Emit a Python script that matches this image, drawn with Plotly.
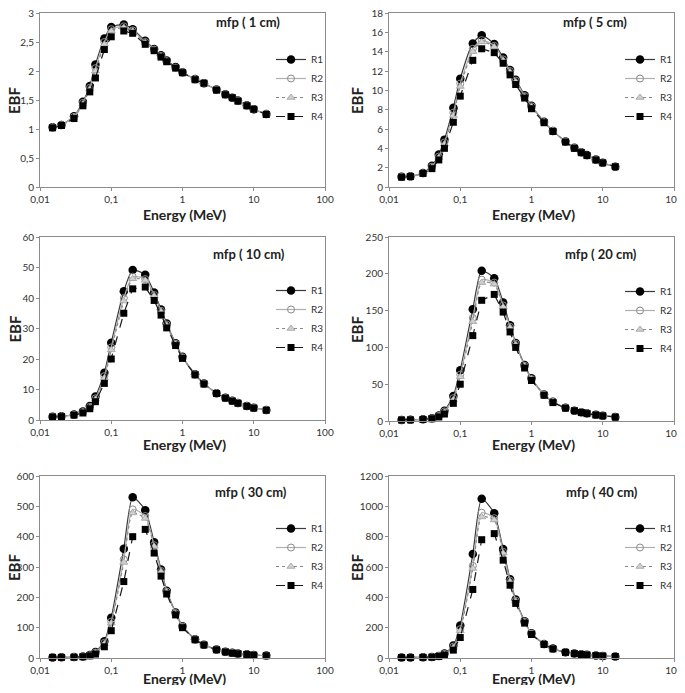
import plotly.graph_objects as go

energy = [0.015, 0.02, 0.03, 0.04, 0.05, 0.06, 0.08, 0.1, 0.15, 0.2, 0.3, 0.4, 0.5,
          0.6, 0.8, 1, 1.5, 2, 3, 4, 5, 6, 8, 10, 15]

series_names = ["R1", "R2", "R3", "R4"]
panel_titles = ["mfp ( 1 cm)", "mfp ( 5 cm)", "mfp ( 10 cm)", "mfp ( 20 cm)", "mfp ( 30 cm)", "mfp ( 40 cm)"]
x_title = "Energy (MeV)"
y_title = "EBF"

x_tickvals = [0.01, 0.1, 1, 10, 100]
x_ticktext = ["0,01", "0,1", "1", "10", "100"]

# 1 cm
r1_1cm = [1.03, 1.07, 1.22, 1.47, 1.74, 2.11, 2.56, 2.76, 2.80, 2.72, 2.52, 2.38, 2.27, 2.18, 2.07, 1.98, 1.86, 1.79, 1.68, 1.60, 1.54, 1.49, 1.41, 1.34, 1.26]
r2_1cm = [1.03, 1.07, 1.21, 1.45, 1.71, 2.05, 2.50, 2.72, 2.77, 2.70, 2.50, 2.37, 2.26, 2.17, 2.06, 1.98, 1.86, 1.79, 1.68, 1.60, 1.54, 1.49, 1.41, 1.34, 1.26]
r3_1cm = [1.03, 1.06, 1.20, 1.43, 1.69, 2.00, 2.46, 2.69, 2.75, 2.69, 2.49, 2.36, 2.25, 2.17, 2.06, 1.97, 1.86, 1.79, 1.67, 1.59, 1.54, 1.48, 1.40, 1.34, 1.25]
r4_1cm = [1.02, 1.06, 1.18, 1.40, 1.64, 1.88, 2.37, 2.59, 2.69, 2.65, 2.46, 2.35, 2.24, 2.16, 2.05, 1.97, 1.85, 1.79, 1.67, 1.59, 1.54, 1.48, 1.40, 1.34, 1.25]

# 5 cm
r1_5cm = [1.05, 1.1, 1.45, 2.2, 3.35, 4.9, 8.2, 11.2, 14.85, 15.7, 14.8, 13.4, 12.1, 11.1, 9.5, 8.4, 6.75, 5.8, 4.7, 4.05, 3.6, 3.3, 2.85, 2.5, 2.1]
r2_5cm = [1.05, 1.1, 1.42, 2.1, 3.15, 4.6, 7.7, 10.7, 14.3, 15.2, 14.6, 13.2, 12.0, 11.0, 9.4, 8.35, 6.7, 5.8, 4.7, 4.05, 3.6, 3.25, 2.85, 2.5, 2.1]
r3_5cm = [1.05, 1.1, 1.4, 2.05, 3.05, 4.45, 7.4, 10.4, 14.0, 15.0, 14.5, 13.1, 11.9, 10.9, 9.35, 8.3, 6.7, 5.8, 4.7, 4.0, 3.6, 3.25, 2.85, 2.5, 2.1]
r4_5cm = [1.02, 1.08, 1.4, 1.9, 2.8, 4.0, 6.7, 9.4, 13.1, 14.3, 13.9, 12.8, 11.6, 10.6, 9.2, 8.1, 6.65, 5.75, 4.65, 4.0, 3.55, 3.25, 2.8, 2.5, 2.1]

# 10 cm
r1_10cm = [1.1, 1.2, 1.8, 2.8, 4.6, 7.7, 15.5, 25.3, 42.2, 49.2, 47.6, 41.8, 36.2, 31.6, 25.2, 20.7, 15.0, 12.0, 8.8, 7.3, 6.3, 5.6, 4.6, 4.0, 3.3]
r2_10cm = [1.1, 1.2, 1.75, 2.6, 4.3, 7.1, 14.4, 23.8, 40.0, 47.0, 46.2, 41.0, 35.8, 31.3, 25.0, 20.6, 15.0, 11.9, 8.8, 7.3, 6.3, 5.6, 4.6, 4.0, 3.3]
r3_10cm = [1.1, 1.2, 1.7, 2.5, 4.1, 6.8, 13.8, 23.0, 39.0, 46.3, 45.8, 40.7, 35.6, 31.1, 24.9, 20.5, 14.9, 11.9, 8.8, 7.3, 6.3, 5.6, 4.6, 4.0, 3.3]
r4_10cm = [1.0, 1.1, 1.6, 2.3, 3.7, 6.0, 12.0, 20.0, 35.0, 43.0, 43.6, 39.2, 34.4, 30.2, 24.4, 20.2, 14.8, 11.8, 8.7, 7.2, 6.2, 5.5, 4.5, 3.9, 3.2]

# 20 cm
r1_20cm = [1.5, 1.7, 2.3, 3.7, 7.5, 14, 34, 69, 152, 204, 194, 161, 130, 106, 76, 58, 36, 26, 18, 14, 12, 10.5, 8.5, 7.2, 5.5]
r2_20cm = [1.5, 1.7, 2.2, 3.5, 7, 13, 31, 63, 140, 192, 188, 157, 128, 105, 75, 57, 36, 26, 18, 14, 12, 10.5, 8.5, 7.2, 5.5]
r3_20cm = [1.5, 1.7, 2.2, 3.4, 6.6, 12, 29, 60, 135, 188, 186, 155, 127, 104, 75, 57, 36, 26, 18, 14, 12, 10.5, 8.5, 7.2, 5.5]
r4_20cm = [1.4, 1.6, 2.0, 3.0, 5.5, 9.5, 24, 50, 116, 164, 172, 148, 121, 100, 72, 55, 35, 25, 17.5, 14, 11.5, 10, 8.2, 7, 5.3]

# 30 cm
r1_30cm = [2, 2.2, 3, 5, 10, 20, 55, 133, 360, 530, 487, 382, 292, 222, 150, 105, 62, 44, 28, 21, 17, 15, 12, 10, 8]
r2_30cm = [2, 2.2, 3, 5, 9, 18, 50, 120, 325, 490, 468, 372, 287, 219, 148, 104, 62, 44, 28, 21, 17, 15, 12, 10, 8]
r3_30cm = [2, 2.2, 3, 4.5, 8.5, 17, 47, 115, 315, 478, 460, 368, 285, 218, 147, 103, 61, 44, 28, 21, 17, 15, 12, 10, 8]
r4_30cm = [2, 2, 2.5, 4, 7, 13, 37, 90, 252, 400, 424, 346, 270, 211, 142, 100, 60, 43, 27, 20, 16, 14, 11.5, 9.5, 7.5]

# 40 cm
r1_40cm = [3, 3.5, 4.5, 7, 14, 30, 82, 215, 685, 1050, 955, 718, 520, 385, 243, 163, 92, 62, 38, 30, 24, 21, 17, 14, 10]
r2_40cm = [3, 3.5, 4.5, 6.5, 13, 27, 75, 190, 608, 958, 922, 700, 510, 378, 240, 161, 91, 61, 38, 29, 24, 21, 17, 14, 10]
r3_40cm = [3, 3.5, 4.5, 6, 12, 25, 70, 180, 590, 930, 910, 692, 505, 375, 238, 160, 91, 61, 38, 29, 24, 21, 17, 14, 10]
r4_40cm = [3, 3, 4, 5.5, 10, 19, 52, 135, 452, 780, 820, 645, 480, 360, 230, 155, 89, 60, 37, 29, 23, 20, 16, 13, 10]

y_ranges = [[0, 3], [0, 18], [0, 60], [0, 250], [0, 600], [0, 1200]]
y_dticks = [0.5, 2, 10, 50, 100, 200]

panels = [
    [r1_1cm, r2_1cm, r3_1cm, r4_1cm],
    [r1_5cm, r2_5cm, r3_5cm, r4_5cm],
    [r1_10cm, r2_10cm, r3_10cm, r4_10cm],
    [r1_20cm, r2_20cm, r3_20cm, r4_20cm],
    [r1_30cm, r2_30cm, r3_30cm, r4_30cm],
    [r1_40cm, r2_40cm, r3_40cm, r4_40cm],
]

# the page body has an 8px margin: shrink the figure so it fits the window exactly
OFF = 8
W, H = 685 - 2 * OFF, 693 - 2 * OFF
# plot area pixel boxes in window coordinates (left, right, top, bottom)
boxes = [
    (40, 325, 13, 187), (389, 674, 13, 187),
    (40, 325, 237, 420), (389, 674, 237, 421),
    (40, 325, 476, 658), (389, 674, 476, 658),
]
# panel title positions in window coordinates (x centre, y centre)
title_pos = [(248, 22), (595, 22), (249, 254), (601, 254), (251, 492), (602, 492)]
# x-axis title centre y per panel
xtitle_y = [215, 215, 444, 444, 678, 678]
# EBF title centre x per panel
ytitle_x = [14, 357, 14, 357, 14, 357]
# top of legend, y in window coordinates
legend_top = [45, 45, 276, 277, 514, 514]

styles = [
    dict(line=dict(color="#3a3a3a", width=1.2, dash="solid", shape="spline", smoothing=0.6),
         marker=dict(symbol="circle", size=8.5, color="black", line=dict(color="black", width=0))),
    dict(line=dict(color="#b0b0b0", width=1.2, dash="solid", shape="spline", smoothing=0.6),
         marker=dict(symbol="circle-open", size=7, color="#8a8a8a", line=dict(width=1))),
    dict(line=dict(color="#8a8a8a", width=1.2, dash="dot", shape="spline", smoothing=0.6),
         marker=dict(symbol="triangle-up", size=7, color="#d0d0d0", line=dict(color="#a0a0a0", width=0.8))),
    dict(line=dict(color="#1a1a1a", width=1.2, dash="dash", shape="linear"),
         marker=dict(symbol="square", size=7, color="black", line=dict(width=0))),
]


def px_x(v):
    return min(1.0, max(0.0, (v - OFF) / W))


def px_y(v):
    return min(1.0, max(0.0, (H - (v - OFF)) / H))


fig = go.Figure()
font_family = "Lato, Liberation Sans, Arial"
layout = dict(
    width=W, height=H, margin=dict(l=0, r=0, t=0, b=0, autoexpand=False),
    paper_bgcolor="white", plot_bgcolor="white",
    separators=", ", showlegend=True,
    font=dict(family=font_family, size=10, color="#333333"),
)
annotations = []
for i, (vals, box) in enumerate(zip(panels, boxes)):
    k = i + 1
    xa = "x" if k == 1 else f"x{k}"
    ya = "y" if k == 1 else f"y{k}"
    lg = "legend" if k == 1 else f"legend{k}"
    l, r, t, b = box
    for name, v, st in zip(series_names, vals, styles):
        fig.add_trace(go.Scatter(x=energy, y=v, name=name, mode="lines+markers",
                                 xaxis=xa, yaxis=ya, legend=lg, line=st["line"],
                                 marker=st["marker"], cliponaxis=False))
    axcommon = dict(showgrid=False, zeroline=False, showline=True, linecolor="#8c8c8c",
                    linewidth=1, mirror=True, ticks="outside", tickcolor="#8c8c8c",
                    ticklen=3, automargin=False, ticklabeloverflow="allow",
                    tickfont=dict(size=10, color="#333333", family=font_family))
    layout["xaxis" if k == 1 else f"xaxis{k}"] = dict(
        axcommon, type="log", range=[-2, 2], domain=[px_x(l), px_x(r)],
        anchor=ya, tickvals=x_tickvals, ticktext=x_ticktext)
    layout["yaxis" if k == 1 else f"yaxis{k}"] = dict(
        axcommon, range=y_ranges[i], dtick=y_dticks[i], domain=[px_y(b), px_y(t)],
        anchor=xa)
    layout[lg] = dict(x=px_x(r - 54), y=px_y(legend_top[i]), xanchor="left", yanchor="top",
                      bgcolor="rgba(0,0,0,0)", font=dict(size=10, color="#333333", family=font_family),
                      itemwidth=30, tracegroupgap=0)
    tx, ty = title_pos[i]
    annotations.append(dict(text=f"<b>{panel_titles[i]}</b>", xref="paper", yref="paper",
                            x=px_x(tx), y=px_y(ty), xanchor="center", yanchor="middle",
                            showarrow=False,
                            font=dict(size=13, family=font_family, color="#222222")))
    annotations.append(dict(text=f"<b>{x_title}</b>", xref="paper", yref="paper",
                            x=px_x((l + r) / 2 + 2), y=px_y(xtitle_y[i]),
                            xanchor="center", yanchor="middle", showarrow=False,
                            font=dict(size=14, family=font_family, color="#222222")))
    annotations.append(dict(text=f"<b>{y_title}</b>", xref="paper", yref="paper",
                            x=px_x(ytitle_x[i]), y=px_y((t + b) / 2), textangle=-90,
                            xanchor="center", yanchor="middle", showarrow=False,
                            font=dict(size=15, family=font_family, color="#222222")))
layout["annotations"] = annotations
fig.update_layout(**layout)
fig.write_html("out.html")
